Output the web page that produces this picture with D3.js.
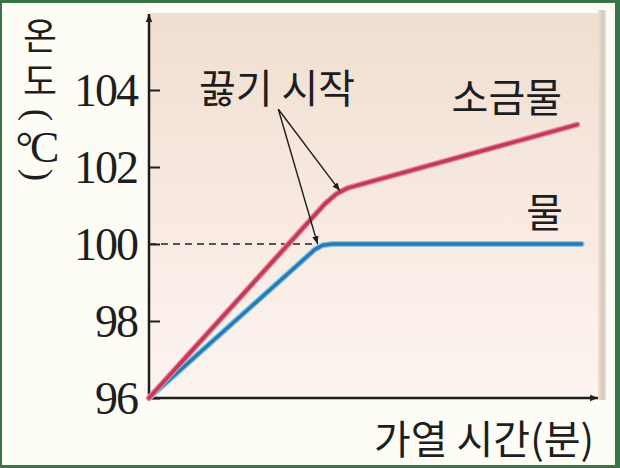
<!DOCTYPE html>
<html>
<head>
<meta charset="utf-8">
<script src="https://cdn.jsdelivr.net/npm/d3@7"></script>
<style>
  body { margin: 0; background: #fdfdf6; }
  svg { display: block; }
  .kr { font-family: "Noto Sans CJK KR", "Noto Sans", sans-serif; fill: #1e1e1e; }
</style>
</head>
<body>
<svg id="chart" width="620" height="468"></svg>
<script>
// temperature ticks on the y axis
const tempTicks = [96, 98, 100, 102, 104];

// 물 (water): heating time vs temperature
const waterTime = [0, 3.55, 3.72, 3.9, 4.1, 9.7];
const waterTemp = [96, 99.68, 99.86, 99.97, 100, 100];

// 소금물 (salt water)
const saltTime = [0, 3.95, 4.2, 4.45, 4.75, 9.6];
const saltTemp = [96, 101.05, 101.3, 101.45, 101.55, 103.1];

// 끓기 시작 arrows: label point -> boiling start points
const boilFrom = [2.9, 103.5];
const boilTime = [4.28, 3.78];
const boilTemp = [101.38, 100];

const svg = d3.select('#chart');
const W = 620, H = 468;

const x = d3.scaleLinear().domain([0, 10]).range([149, 595]);
const y = d3.scaleLinear().domain([96, 106]).range([398, 13]);

const defs = svg.append('defs');

const bg = defs.append('linearGradient').attr('id', 'panel').attr('x1', 0).attr('y1', 0).attr('x2', 0).attr('y2', 1);
bg.append('stop').attr('offset', '0%').attr('stop-color', '#f0ded0');
bg.append('stop').attr('offset', '50%').attr('stop-color', '#f8e9e1');
bg.append('stop').attr('offset', '100%').attr('stop-color', '#fdf4f0');

const bevel = defs.append('linearGradient').attr('id', 'bevel');
bevel.append('stop').attr('offset', '0%').attr('stop-color', '#efe2d6');
bevel.append('stop').attr('offset', '60%').attr('stop-color', '#d6c7b8');
bevel.append('stop').attr('offset', '100%').attr('stop-color', '#e8e0d8');

defs.append('marker')
  .attr('id', 'head').attr('viewBox', '0 0 10 10')
  .attr('refX', 10).attr('refY', 5)
  .attr('markerWidth', 8).attr('markerHeight', 8)
  .attr('markerUnits', 'userSpaceOnUse')
  .attr('orient', 'auto')
  .append('path').attr('d', 'M0,1 L10,5 L0,9 Z').attr('fill', '#1e1e1e');

// outer frame
svg.append('rect').attr('width', W).attr('height', H).attr('fill', '#3a7449');
svg.append('rect').attr('x', 2).attr('y', 3).attr('width', W - 7).attr('height', H - 6).attr('fill', '#fdfdf6');

// panel
svg.append('rect').attr('x', 598).attr('y', 10).attr('width', 8).attr('height', 390).attr('fill', 'url(#bevel)');
svg.append('rect').attr('x', 150).attr('y', 13).attr('width', 448).attr('height', 385).attr('fill', 'url(#panel)');

// y ticks + labels
const yAxis = svg.append('g')
  .attr('transform', `translate(${x(0)},0)`)
  .call(d3.axisLeft(y).tickValues(tempTicks).tickSizeInner(-11).tickSizeOuter(0).tickPadding(12));
yAxis.select('.domain').remove();
yAxis.selectAll('line').attr('stroke', '#1e1e1e').attr('stroke-width', 2);
yAxis.selectAll('text')
  .attr('font-family', '"Liberation Serif", "DejaVu Serif", serif')
  .attr('font-size', 46).attr('letter-spacing', -2)
  .attr('fill', '#1e1e1e').attr('dy', '0.34em');

// axes with arrows
svg.append('line')
  .attr('x1', x(0)).attr('y1', y(96) + 1).attr('x2', x(0)).attr('y2', 14)
  .attr('stroke', '#1e1e1e').attr('stroke-width', 2.5).attr('marker-end', 'url(#head)');
svg.append('line')
  .attr('x1', x(0) - 1).attr('y1', y(96)).attr('x2', 598).attr('y2', y(96))
  .attr('stroke', '#1e1e1e').attr('stroke-width', 2.5).attr('marker-end', 'url(#head)');

// dashed 100 guide
svg.append('line')
  .attr('x1', x(0)).attr('x2', x(boilTime[1])).attr('y1', y(100)).attr('y2', y(100))
  .attr('stroke', '#222').attr('stroke-width', 1.5).attr('stroke-dasharray', '7,5');

const line = d3.line().x(d => x(d[0])).y(d => y(d[1]));
const water = d3.zip(waterTime, waterTemp);
const salt = d3.zip(saltTime, saltTemp);

const drawLine = (pts, edge, core) => {
  svg.append('path').attr('d', line(pts)).attr('fill', 'none')
    .attr('stroke', edge).attr('stroke-width', 6)
    .attr('stroke-linecap', 'round').attr('stroke-linejoin', 'round');
  svg.append('path').attr('d', line(pts)).attr('fill', 'none')
    .attr('stroke', core).attr('stroke-width', 3.5)
    .attr('stroke-linecap', 'round').attr('stroke-linejoin', 'round');
};
drawLine(water, '#86cbe8', '#2a78b4');
drawLine(salt, '#e48ea0', '#c4385a');

// annotation arrows
svg.selectAll('line.boil')
  .data(d3.zip(boilTime, boilTemp))
  .join('line').attr('class', 'boil')
  .attr('x1', x(boilFrom[0])).attr('y1', y(boilFrom[1]))
  .attr('x2', d => x(d[0])).attr('y2', d => y(d[1]))
  .attr('stroke', '#1e1e1e').attr('stroke-width', 1.4).attr('marker-end', 'url(#head)');

// texts
const label = (t, tx, ty, anchor, size) => svg.append('text').attr('class', 'kr')
  .attr('x', tx).attr('y', ty).attr('font-size', size || 40)
  .attr('text-anchor', anchor || 'start').text(t);

label('끓기 시작', 199, 103);
label('소금물', 562, 112, 'end');
label('물', 563, 227, 'end');
label('가열 시간(분)', 594, 454, 'end');

// vertical y title 온도(℃) - stacked glyphs in one text
const yt = svg.append('text').attr('class', 'kr')
  .attr('font-size', 37).attr('text-anchor', 'middle');
yt.append('tspan').attr('x', 40).attr('y', 50).text('온');
yt.append('tspan').attr('x', 40).attr('y', 95).text('도');
// parens turned sideways, like vertical text
[['(', 115], [')', 175]].forEach(([c, cy]) => {
  svg.append('text')
    .attr('transform', `translate(38,${cy}) rotate(90)`)
    .attr('text-anchor', 'middle').attr('dominant-baseline', 'central')
    .attr('font-family', '"Liberation Serif", "DejaVu Serif", serif')
    .attr('font-size', 37).attr('fill', '#1e1e1e').text(c);
});
svg.append('text')
  .attr('x', 36).attr('y', 162)
  .attr('text-anchor', 'middle')
  .attr('font-family', '"Liberation Serif", "DejaVu Serif", serif')
  .attr('font-size', 44).attr('letter-spacing', -3)
  .attr('fill', '#1e1e1e').text('°C');
</script>
</body>
</html>
